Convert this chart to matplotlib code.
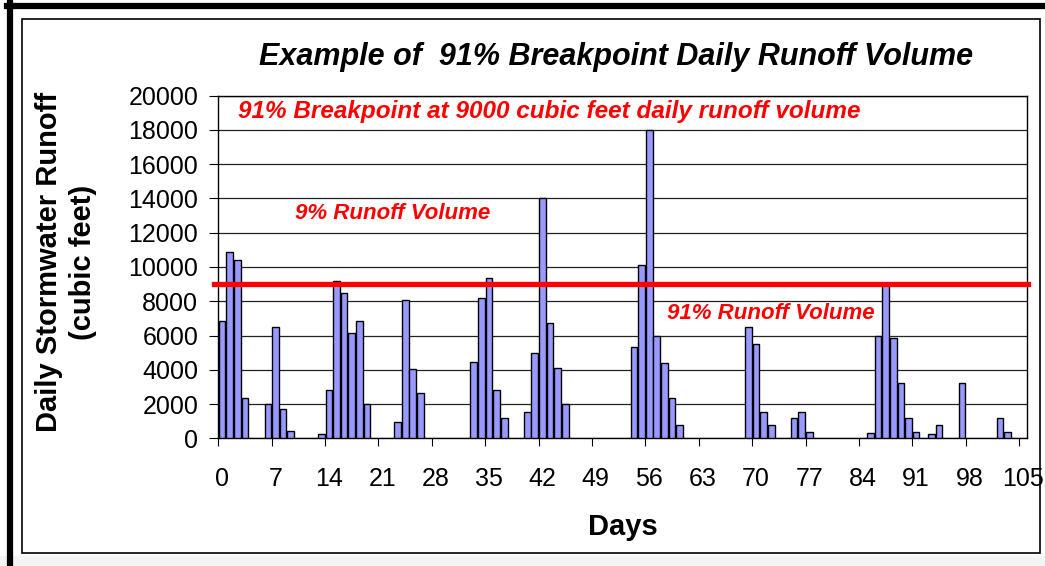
import matplotlib.pyplot as plt
from matplotlib.patches import Rectangle
from matplotlib.lines import Line2D

plt.rcParams['font.family'] = ['Liberation Sans', 'DejaVu Sans']

# daily runoff volumes (cubic feet), days with no runoff are left out
days = [0, 1, 2, 3, 6, 7, 8, 9, 13, 14, 15, 16, 17, 18, 19, 23, 24, 25, 26,
        33, 34, 35, 36, 37, 40, 41, 42, 43, 44, 45, 54, 55, 56, 57, 58, 59, 60,
        69, 70, 71, 72, 75, 76, 77, 85, 86, 87, 88, 89, 90, 91, 93, 94, 97,
        102, 103]
runoff = [6830, 10850, 10400, 2330, 2000, 6500, 1700, 400, 230, 2820, 9200,
          8500, 6130, 6870, 2000, 930, 8050, 4070, 2670, 4470, 8170, 9380,
          2820, 1170, 1560, 4960, 14000, 6750, 4090, 1980, 5350, 10100, 18000,
          5970, 4400, 2330, 780, 6520, 5500, 1560, 780, 1170, 1560, 390, 290,
          5970, 9000, 5840, 3210, 1170, 390, 230, 780, 3210, 1170, 390]
breakpoint = 9000
x_labels = list(range(0, 106, 7))
y_ticks = list(range(0, 20001, 2000))

W, H = 1045, 566
fig = plt.figure(figsize=(W / 100, H / 100), dpi=100)

# outer frame like the source image
fig.patches.append(Rectangle((0, 0), 1, 10 / H, transform=fig.transFigure,
                             facecolor='#f4f4f4', edgecolor='none', zorder=0))
fig.lines.append(Line2D([10 / W, 10 / W], [0, 1 - 3 / H], transform=fig.transFigure,
                        color='black', lw=4.5))
fig.lines.append(Line2D([7 / W, 1], [1 - 6 / H, 1 - 6 / H], transform=fig.transFigure,
                        color='black', lw=4.5))
fig.patches.append(Rectangle((22 / W, 1 - 553 / H), (1040 - 22) / W, (553 - 19) / H,
                             transform=fig.transFigure, facecolor='none',
                             edgecolor='black', lw=1.2))

ax = fig.add_axes([218.3 / W, 1 - 438.3 / H, (1026.7 - 218.3) / W, (438.3 - 95.7) / H])
ax.bar(days, runoff, width=0.88, color='#9999ff', edgecolor='black', lw=1, zorder=3)
ax.axhline(breakpoint, xmin=-0.005, xmax=1.002, color='red', lw=3.8, zorder=4,
           clip_on=False)

ax.set_xlim(-0.5, 105.5)
ax.set_ylim(0, 20000)
ax.set_yticks(y_ticks)
ax.yaxis.grid(True, color='#222222', lw=0.9, zorder=0)
ax.tick_params(axis='y', direction='out', length=6.5, labelsize=18, pad=8)

# tick marks between categories, labels under category centres
ax.set_xticks([x - 0.5 for x in x_labels])
ax.set_xticklabels([])
ax.set_xticks(x_labels, minor=True)
ax.set_xticklabels([str(x) for x in x_labels], minor=True)
ax.tick_params(axis='x', which='major', direction='out', length=6)
ax.tick_params(axis='x', which='minor', length=0, labelsize=18, pad=21)

for s in ax.spines.values():
    s.set_linewidth(1)

red_font = dict(color='red', fontweight='bold', fontstyle='italic',
                va='center', ha='left')
ax.text(2.1, 19050, '91% Breakpoint at 9000 cubic feet daily runoff volume',
        fontsize=17.5, **red_font)
ax.text(9.6, 13150, '9% Runoff Volume', fontsize=16, **red_font)
ax.text(58.3, 7300, '91% Runoff Volume', fontsize=16, **red_font)

fig.text(616 / W, 1 - 57 / H, 'Example of  91% Breakpoint Daily Runoff Volume',
         ha='center', va='center', fontsize=22, fontweight='bold', fontstyle='italic')
fig.text(66 / W, 1 - 262 / H, 'Daily Stormwater Runoff\n(cubic feet)',
         ha='center', va='center', rotation=90, fontsize=21, fontweight='bold',
         multialignment='center', linespacing=1.3)
fig.text(623 / W, 1 - 527 / H, 'Days', ha='center', va='center',
         fontsize=21, fontweight='bold')

fig.savefig('out.png', dpi=100)
